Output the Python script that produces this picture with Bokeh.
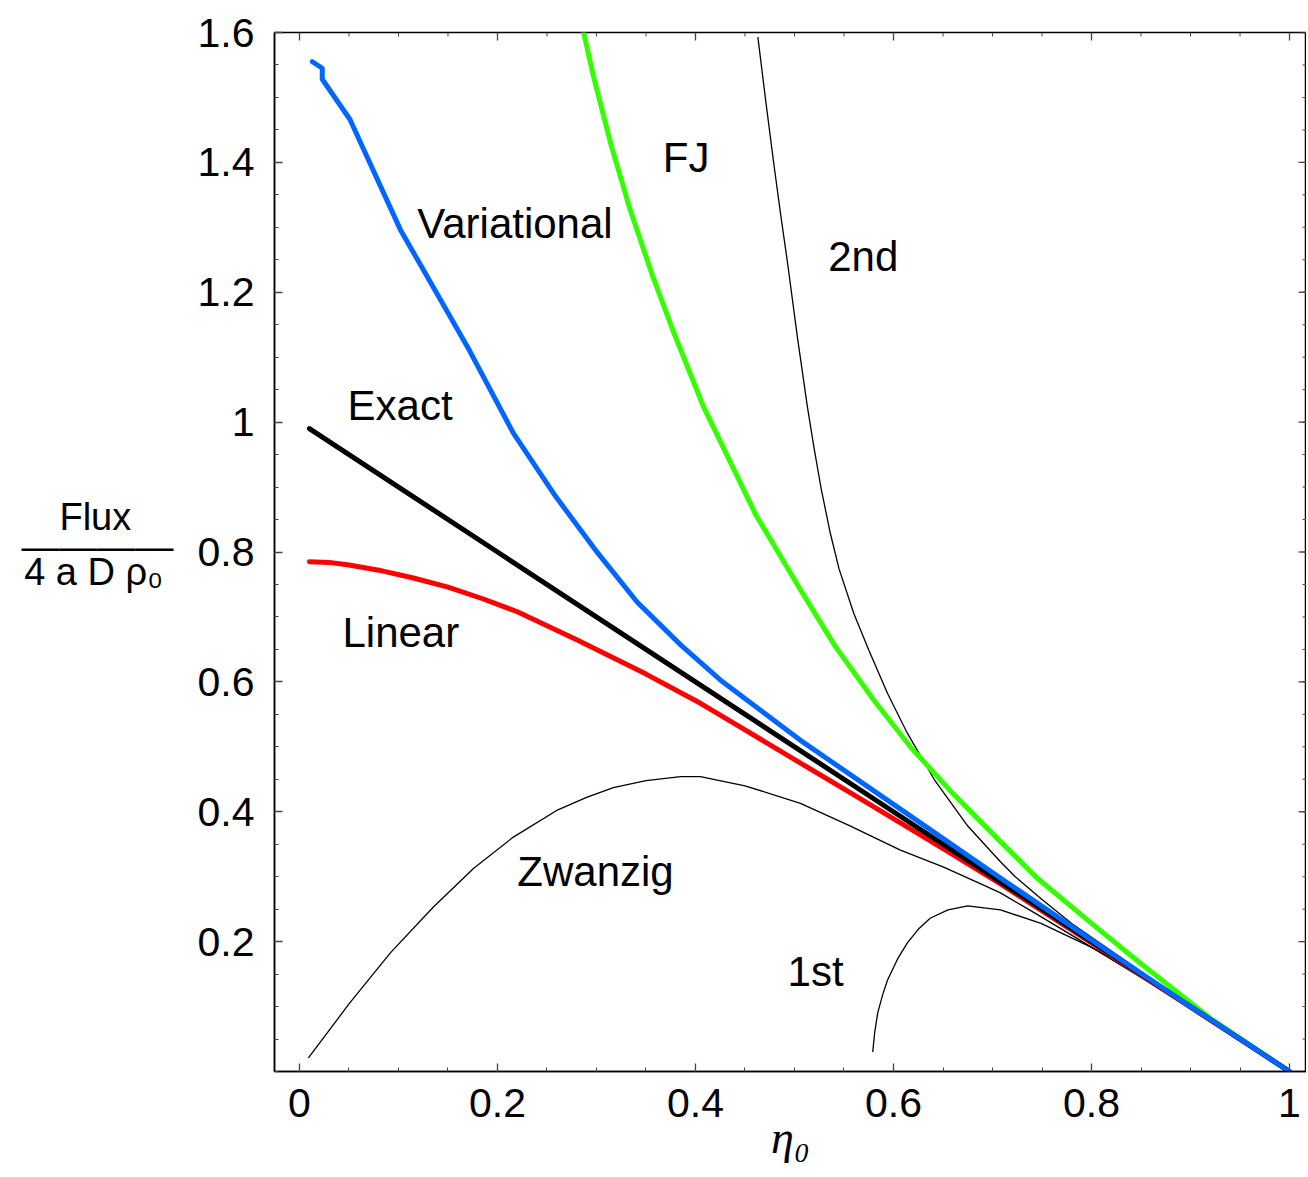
from bokeh.plotting import figure
from bokeh.models import Range1d, FixedTicker, LinearAxis, AllLabels
from bokeh.embed import file_html
from bokeh.resources import INLINE

# ---------------- data ----------------
exact_x = [0.01, 0.2, 0.4, 0.6, 0.8, 1.0]
exact_y = [0.99, 0.8, 0.6, 0.4, 0.2, 0.0]

linear_x = [0.01, 0.03, 0.05, 0.08, 0.115, 0.15, 0.185, 0.22, 0.28, 0.35, 0.405, 0.45, 0.506, 0.56, 0.607, 0.66, 0.708, 0.8, 0.9, 1.0]
linear_y = [0.785, 0.784, 0.780, 0.772, 0.760, 0.746, 0.728, 0.708, 0.665, 0.612, 0.567, 0.526, 0.475, 0.426, 0.383, 0.334, 0.289, 0.198, 0.099, 0.0]

var_x = [0.013, 0.023, 0.023, 0.051, 0.102, 0.170, 0.216, 0.259, 0.301, 0.341, 0.385, 0.425, 0.506, 0.607, 0.708, 0.809, 0.9, 1.0]
var_y = [1.555, 1.545, 1.528, 1.466, 1.296, 1.115, 0.983, 0.885, 0.799, 0.723, 0.657, 0.603, 0.510, 0.404, 0.298, 0.193, 0.100, 0.0]

fj_x = [0.287, 0.297, 0.315, 0.334, 0.356, 0.378, 0.408, 0.461, 0.506, 0.541, 0.580, 0.617, 0.660, 0.708, 0.745, 0.800, 0.849, 0.920, 1.0]
fj_y = [1.600, 1.532, 1.425, 1.327, 1.228, 1.138, 1.024, 0.857, 0.742, 0.655, 0.572, 0.500, 0.428, 0.354, 0.298, 0.228, 0.167, 0.082, 0.0]

second_x = [0.463, 0.471, 0.479, 0.486, 0.493, 0.503, 0.513, 0.520, 0.527, 0.536, 0.545, 0.560, 0.575, 0.594, 0.614, 0.641, 0.675, 0.708, 0.723, 0.750, 0.780, 0.849, 0.920, 1.0]
second_y = [1.593, 1.494, 1.399, 1.320, 1.245, 1.130, 1.024, 0.958, 0.897, 0.830, 0.774, 0.705, 0.649, 0.582, 0.521, 0.450, 0.378, 0.323, 0.300, 0.265, 0.228, 0.155, 0.081, 0.0]

zw_x = [0.009, 0.05, 0.092, 0.135, 0.176, 0.216, 0.261, 0.29, 0.317, 0.35, 0.385, 0.405, 0.45, 0.506, 0.555, 0.607, 0.65, 0.691, 0.708, 0.745, 0.782, 0.85, 0.92, 1.0]
zw_y = [0.021, 0.104, 0.183, 0.253, 0.313, 0.361, 0.403, 0.422, 0.437, 0.448, 0.454, 0.454, 0.440, 0.413, 0.379, 0.341, 0.315, 0.287, 0.275, 0.242, 0.208, 0.145, 0.078, 0.0]

first_x = [0.579, 0.581, 0.584, 0.589, 0.594, 0.604, 0.614, 0.625, 0.637, 0.655, 0.675, 0.708, 0.749, 0.799, 0.849, 0.92, 1.0]
first_y = [0.030, 0.060, 0.090, 0.118, 0.141, 0.173, 0.198, 0.219, 0.236, 0.249, 0.255, 0.249, 0.228, 0.192, 0.152, 0.080, 0.0]

curve_names = ["Variational", "FJ", "2nd", "Exact", "Linear", "Zwanzig", "1st"]
name_x = [0.119, 0.367, 0.534, 0.0485, 0.0434, 0.220, 0.493]
name_y = [1.306, 1.408, 1.255, 1.026, 0.676, 0.308, 0.154]

x_ticks = [0, 0.2, 0.4, 0.6, 0.8, 1.0]
x_tick_labels = ["0", "0.2", "0.4", "0.6", "0.8", "1"]
y_ticks = [0.2, 0.4, 0.6, 0.8, 1.0, 1.2, 1.4, 1.6]
y_tick_labels = ["0.2", "0.4", "0.6", "0.8", "1", "1.2", "1.4", "1.6"]
x_minor = [0.0, 0.05, 0.1, 0.15, 0.2, 0.25, 0.3, 0.35, 0.4, 0.45, 0.5, 0.55, 0.6, 0.65, 0.7, 0.75, 0.8, 0.85, 0.9, 0.95, 1.0]
y_minor = [round(0.05 * i, 2) for i in range(0, 33)]

x_title = "\u03b7\u2080"
y_title_lines = ["Flux", "\u2014" * 4, "4 a D \u03c1\u2080"]
y_title_pos = [0.854, 0.807, 0.769]
y_title_pad = [4, 0, 1]

X_MIN, X_MAX = -0.02525, 1.01717
Y_MIN, Y_MAX = 0.0, 1.6
FW, FH = 1032, 1039
FONT = "Liberation Sans"

p = figure(frame_width=FW, frame_height=FH,
           x_range=Range1d(X_MIN, X_MAX), y_range=Range1d(Y_MIN, Y_MAX),
           output_backend="svg", toolbar_location=None,
           min_border_left=274, min_border_top=32, min_border_bottom=0, min_border_right=0,
           background_fill_color="white", border_fill_color="white")
p.xgrid.visible = False
p.ygrid.visible = False
p.outline_line_color = "black"
p.outline_line_width = 1.5


def style_axis(ax, ticks, minor, labels):
    ax.ticker = FixedTicker(ticks=ticks, minor_ticks=minor)
    ax.axis_line_color = "black"
    ax.axis_line_width = 1.5
    ax.major_tick_in = 8
    ax.major_tick_out = 0
    ax.minor_tick_in = 4
    ax.minor_tick_out = 0
    ax.major_tick_line_color = "#444444"
    ax.minor_tick_line_color = "#444444"
    ax.major_tick_line_width = 1.3
    ax.minor_tick_line_width = 1.0
    ax.major_label_overrides = {float(t): l for t, l in zip(ticks, labels)}
    ax.major_label_text_font = FONT
    ax.major_label_text_font_size = "41px"
    ax.major_label_text_color = "black"


style_axis(p.xaxis[0], x_ticks, x_minor, x_tick_labels)
p.xaxis[0].major_label_standoff = 17
p.xaxis[0].axis_label = x_title
p.xaxis[0].axis_label_text_font = "Liberation Serif"
p.xaxis[0].axis_label_text_font_style = "italic"
p.xaxis[0].axis_label_text_font_size = "46px"
p.xaxis[0].axis_label_text_color = "black"
p.xaxis[0].axis_label_standoff = -8

style_axis(p.yaxis[0], y_ticks, y_minor, y_tick_labels)
p.yaxis[0].major_label_standoff = 20

# y title drawn as a stacked fraction, using an extra (tick-less) axis on the left
nb = "\u00a0"
ytitle = LinearAxis(ticker=FixedTicker(ticks=y_title_pos, minor_ticks=[]))
ytitle.major_label_overrides = {float(v): t + nb * k for v, t, k in zip(y_title_pos, y_title_lines, y_title_pad)}
ytitle.major_label_policy = AllLabels()
ytitle.axis_line_color = None
ytitle.major_tick_line_color = None
ytitle.minor_tick_line_color = None
ytitle.major_tick_in = 0
ytitle.major_tick_out = 0
ytitle.major_label_standoff = 21
ytitle.major_label_text_font = FONT
ytitle.major_label_text_font_size = "38px"
ytitle.major_label_text_color = "black"
p.add_layout(ytitle, "left")

# mirrored ticks on the top and right edges of the frame
maj_dy, min_dy = 8 * (Y_MAX - Y_MIN) / FH, 4 * (Y_MAX - Y_MIN) / FH
maj_dx, min_dx = 8 * (X_MAX - X_MIN) / FW, 4 * (X_MAX - X_MIN) / FW
tick_style = dict(line_color="#444444")
p.segment(x0=x_minor, y0=[Y_MAX] * len(x_minor), x1=x_minor, y1=[Y_MAX - min_dy] * len(x_minor), line_width=1.0, **tick_style)
p.segment(x0=x_ticks, y0=[Y_MAX] * len(x_ticks), x1=x_ticks, y1=[Y_MAX - maj_dy] * len(x_ticks), line_width=1.3, **tick_style)
p.segment(x0=[X_MAX] * len(y_minor), y0=y_minor, x1=[X_MAX - min_dx] * len(y_minor), y1=y_minor, line_width=1.0, **tick_style)
p.segment(x0=[X_MAX] * len(y_ticks), y0=y_ticks, x1=[X_MAX - maj_dx] * len(y_ticks), y1=y_ticks, line_width=1.3, **tick_style)

THIN = 1.3
THICK = 5
p.line(zw_x, zw_y, line_color="black", line_width=THIN)
p.line(first_x, first_y, line_color="black", line_width=THIN)
p.line(second_x, second_y, line_color="black", line_width=THIN)
p.line(fj_x, fj_y, line_color="#33FF00", line_width=THICK, line_cap="round", line_join="round")
p.line(linear_x, linear_y, line_color="#FF0000", line_width=THICK, line_cap="round", line_join="round")
p.line(exact_x, exact_y, line_color="black", line_width=THICK, line_cap="round", line_join="round")
p.line(var_x, var_y, line_color="#0066FF", line_width=THICK, line_cap="round", line_join="round")

p.text(x=name_x, y=name_y, text=curve_names, text_font={"value": FONT}, text_font_size="42px",
       text_color="black", text_align="left", text_baseline="alphabetic")

open("out.html", "w").write(file_html(p, INLINE))
